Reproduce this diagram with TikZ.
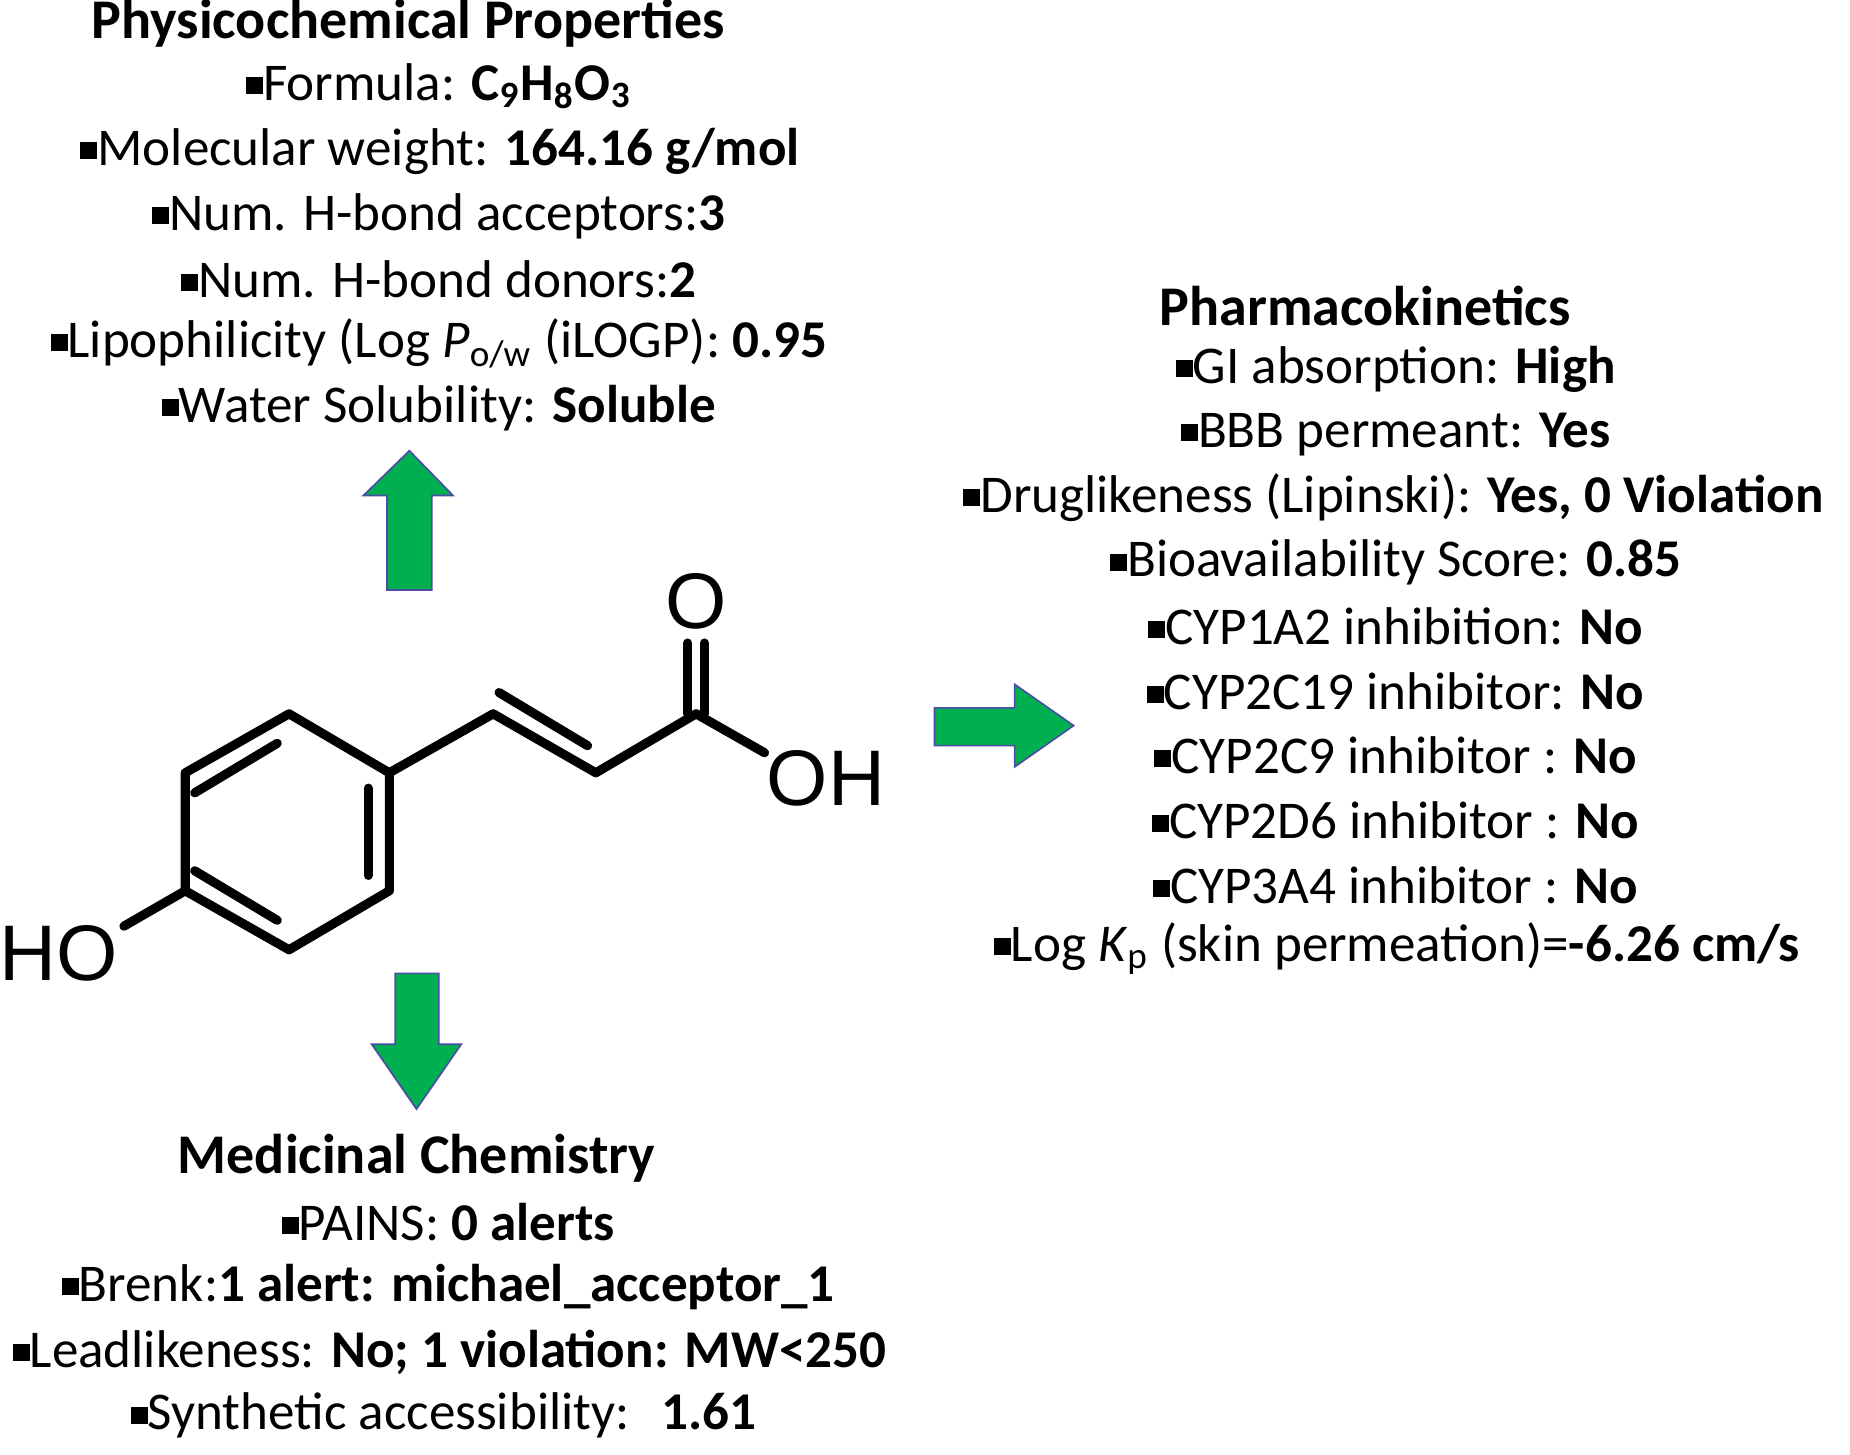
\documentclass[tikz,border=0pt]{standalone}
\usepackage{fontspec}
\setmainfont{Carlito}
\newfontfamily\molfont{Liberation Sans}
\newcommand{\bul}{\rule[0.12em]{0.32em}{0.32em}}
\begin{document}
\begin{tikzpicture}[x=0.01cm,y=-0.01cm,
  txt/.style={font=\fontsize{12.8}{15}\selectfont, inner sep=0pt, anchor=center},
  head/.style={font=\fontsize{13.5}{16}\selectfont\bfseries, inner sep=0pt, anchor=center},
  bond/.style={line width=2.2pt, line cap=round, line join=round},
  atom/.style={font=\molfont\fontsize{19}{20}\selectfont, inner sep=0pt},
  garrow/.style={fill=green!60!black!60!cyan!40!green, draw=blue!40!black, line width=0.4pt}]
\useasboundingbox (0,0) rectangle (1568,1233);
\definecolor{gr}{HTML}{00B050}
% top block
\node[head] (t0) at (346,20) {Physicochemical Properties};
\node[txt] (t1) at (372,73) {\bul Formula: \textbf{C\textsubscript{9}H\textsubscript{8}O\textsubscript{3}}};
\node[txt] (t2) at (373,128) {\bul Molecular weight: \textbf{164.16 g/mol}};
\node[txt] (t3) at (372,183) {\bul Num. H-bond acceptors:\textbf{3}};
\node[txt] (t4) at (372,237) {\bul Num. H-bond donors:\textbf{2}};
\node[txt] (t5) at (372,291) {\bul Lipophilicity (Log \textit{P}\textsubscript{o/w} (iLOGP): \textbf{0.95}};
\node[txt] (t6) at (372,346) {\bul Water Solubility: \textbf{Soluble}};
% right block
\node[head] (r0) at (1157,259) {Pharmacokinetics};
\node[txt] (r1) at (1183,313) {\bul GI absorption: \textbf{High}};
\node[txt] (r2) at (1183,368) {\bul BBB permeant: \textbf{Yes}};
\node[txt] (r3) at (1181,422) {\bul Druglikeness (Lipinski): \textbf{Yes, 0 Violation}};
\node[txt] (r4) at (1183,477) {\bul Bioavailability Score: \textbf{0.85}};
\node[txt] (r5) at (1183,531) {\bul CYP1A2 inhibition: \textbf{No}};
\node[txt] (r6) at (1183,586) {\bul CYP2C19 inhibitor: \textbf{No}};
\node[txt] (r7) at (1183,640) {\bul CYP2C9 inhibitor : \textbf{No}};
\node[txt] (r8) at (1183,695) {\bul CYP2D6 inhibitor : \textbf{No}};
\node[txt] (r9) at (1183,750) {\bul CYP3A4 inhibitor : \textbf{No}};
\node[txt] (r10) at (1184,804) {\bul Log \textit{K}\textsubscript{p} (skin permeation)=\textbf{-6.26 cm/s}};
% bottom block
\node[head] (b0) at (353,982) {Medicinal Chemistry};
\node[txt] (b1) at (380,1036) {\bul PAINS: \textbf{0 alerts}};
\node[txt] (b2) at (380,1091) {\bul Brenk:\textbf{1 alert: michael\_acceptor\_1}};
\node[txt] (b3) at (381,1146) {\bul Leadlikeness: \textbf{No; 1 violation: MW<250}};
\node[txt] (b4) at (376,1200) {\bul Synthetic accessibility: \textbf{ 1.61}};
% arrows
\fill[gr, draw=blue!50!black!70, line width=0.4pt] (328,500) -- (328,420) -- (308,420) -- (347,382) -- (384,420) -- (366,420) -- (366,500) -- cycle;
\fill[gr, draw=blue!50!black!70, line width=0.4pt] (335,825) -- (335,885) -- (315,885) -- (353,940) -- (391,885) -- (372,885) -- (372,825) -- cycle;
\fill[gr, draw=blue!50!black!70, line width=0.4pt] (792,600) -- (860,600) -- (860,580) -- (910,615) -- (860,650) -- (860,632) -- (792,632) -- cycle;
% molecule
\coordinate (a1) at (245,605);
\coordinate (a2) at (330,655);
\coordinate (a3) at (330,755);
\coordinate (a4) at (245,805);
\coordinate (a5) at (157,755);
\coordinate (a6) at (157,655);
\draw[bond] (a1)--(a2)--(a3)--(a4)--(a5)--(a6)--cycle;
\draw[bond] (165,672)--(235,630);
\draw[bond] (312,668)--(312,742);
\draw[bond] (165,738)--(235,780);
\node[atom] (HO) at (50,808) {HO};
\draw[bond] (a5)--(105,785);
\coordinate (c1) at (418,605);
\coordinate (c2) at (505,655);
\coordinate (c3) at (590,605);
\draw[bond] (a2)--(c1)--(c2)--(c3);
\draw[bond] (423,587)--(498,632);
\draw[bond] (583,605)--(583,545);
\draw[bond] (597,605)--(597,545);
\node[atom] (O) at (590,510) {O};
\node[atom] (OH) at (700,660) {OH};
\draw[bond] (c3)--(648,638);
\end{tikzpicture}
\end{document}
